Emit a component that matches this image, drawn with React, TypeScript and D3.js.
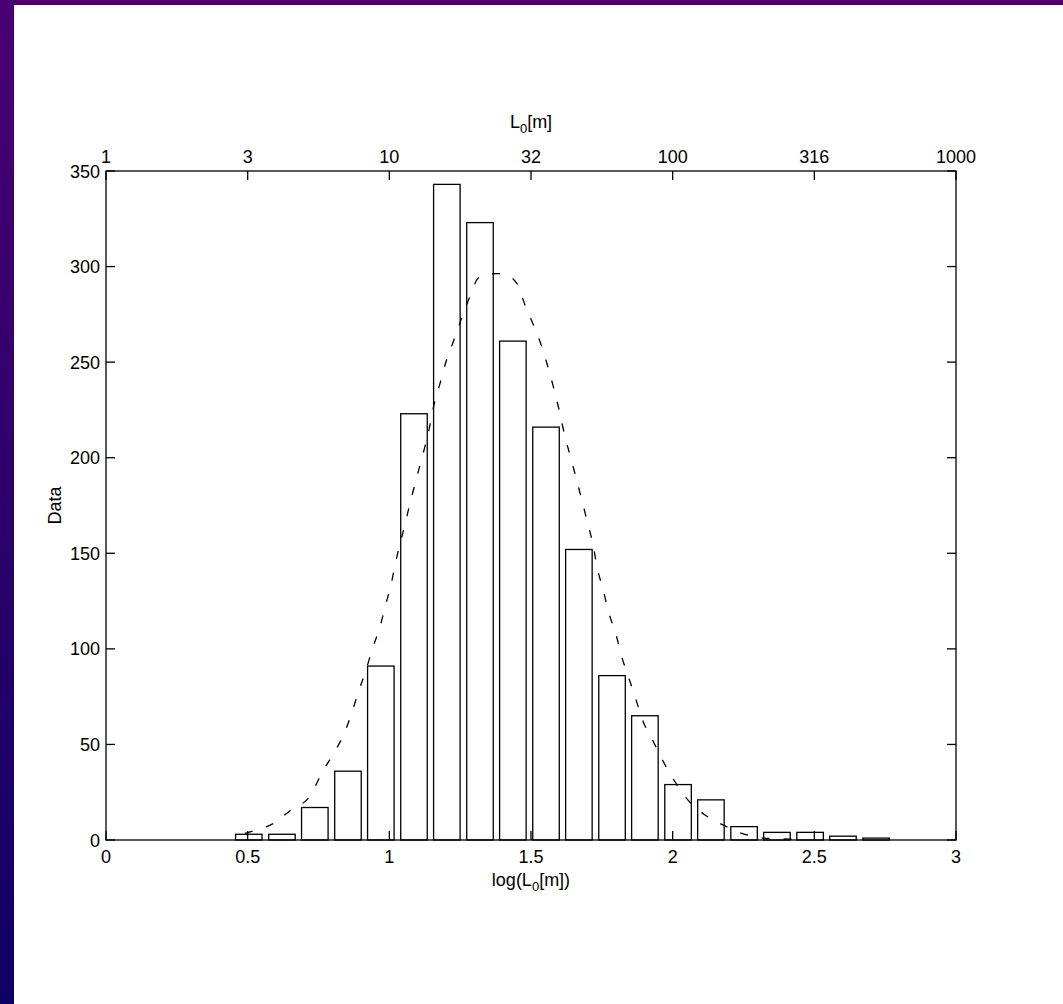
import React from "react";
import * as d3 from "d3";

// ---- data ----
const binCenters = [0.504, 0.621, 0.737, 0.854, 0.970, 1.087, 1.203, 1.320, 1.436, 1.553,
  1.669, 1.786, 1.902, 2.019, 2.135, 2.252, 2.368, 2.485, 2.601, 2.718];
const counts = [3, 3, 17, 36, 91, 223, 343, 323, 261, 216, 152, 86, 65, 29, 21, 7, 4, 4, 2, 1];

const fitX = [0.49, 0.508, 0.591, 0.655, 0.72, 0.761, 0.80, 0.838, 0.867, 0.891, 0.914, 0.941,
  0.967, 0.987, 1.008, 1.024, 1.046, 1.063, 1.082, 1.102, 1.124, 1.141, 1.159, 1.179, 1.2,
  1.228, 1.255, 1.282, 1.314, 1.35, 1.40, 1.45, 1.479, 1.511, 1.538, 1.561, 1.582, 1.602,
  1.62, 1.641, 1.661, 1.681, 1.7, 1.718, 1.734, 1.755, 1.775, 1.799, 1.82, 1.844, 1.869,
  1.896, 1.932, 1.967, 2.008, 2.049, 2.114, 2.179, 2.244, 2.33, 2.42];
const fitY = [3.5, 4.3, 8.7, 16, 23, 34.9, 44.5, 54.9, 66.3, 77.6, 87.2, 100.3,
  111.6, 123, 135, 146.5, 159.6, 170, 181.4, 192.7, 204.9, 215.4, 228.5, 238.9, 250.2,
  261.6, 272.9, 283.4, 294, 296.2, 296.3, 291.2, 279.9, 268.6, 258.1, 246.8, 235.4, 223.2,
  211, 199.7, 188.3, 177, 165.7, 155.2, 142.1, 130.8, 118.6, 108.1, 95.9, 85.4, 74.1,
  61.9, 51.4, 41, 30.5, 21.8, 13.1, 7.8, 3.5, 0.9, 0.5];

const xTicks = [0, 0.5, 1, 1.5, 2, 2.5, 3];
const xTickLabels = ["0", "0.5", "1", "1.5", "2", "2.5", "3"];
const topTickLabels = ["1", "3", "10", "32", "100", "316", "1000"];
const yTicks = [0, 50, 100, 150, 200, 250, 300, 350];

const W = 1063, H = 1004;
const L = 106, R = 956, T = 171, B = 840;
const FONT = "'Liberation Sans', Arial, Helvetica, sans-serif";
const FS = 18;
const TICK = 9;
const SW = 1.3;

export default function App() {
  const x = d3.scaleLinear().domain([0, 3]).range([L, R]);
  const y = d3.scaleLinear().domain([0, 350]).range([B, T]);
  const binW = binCenters[1] - binCenters[0];
  const barW = x(binW * 0.8) - x(0);

  const line = d3.line<number>()
    .x((_, i) => x(fitX[i]))
    .y((d) => y(d))
    .curve(d3.curveMonotoneX);

  return (
    <svg width={W} height={H} style={{ position: "absolute", left: 0, top: 0, display: "block" }}
      fontFamily={FONT}>
      <defs>
        <linearGradient id="side" x1="0" y1="0" x2="0" y2="1">
          <stop offset="0" stopColor="#4a0072" />
          <stop offset="1" stopColor="#0f0064" />
        </linearGradient>
      </defs>
      <rect x={0} y={0} width={W} height={H} fill="#ffffff" />
      <rect x={0} y={0} width={W} height={5} fill="#440068" />
      <rect x={0} y={0} width={14} height={H} fill="url(#side)" />

      {/* bars */}
      {counts.map((c, i) => (
        <rect key={i} x={x(binCenters[i]) - barW / 2} y={y(c)} width={barW} height={y(0) - y(c)}
          fill="none" stroke="#000" strokeWidth={SW} />
      ))}

      {/* fit curve */}
      <path d={line(fitY) || ""} fill="none" stroke="#000" strokeWidth={SW} strokeDasharray="8,14" />

      {/* axes box */}
      <rect x={L} y={T} width={R - L} height={B - T} fill="none" stroke="#000" strokeWidth={SW} />

      {/* y ticks */}
      {yTicks.map((t) => (
        <g key={"y" + t}>
          <line x1={L} x2={L + TICK} y1={y(t)} y2={y(t)} stroke="#000" strokeWidth={SW} />
          <line x1={R} x2={R - TICK} y1={y(t)} y2={y(t)} stroke="#000" strokeWidth={SW} />
          <text x={L - 6} y={y(t) + 6.5} textAnchor="end" fontSize={FS}>{t}</text>
        </g>
      ))}

      {/* x ticks bottom and top */}
      {xTicks.map((t, i) => (
        <g key={"x" + t}>
          <line x1={x(t)} x2={x(t)} y1={B} y2={B - TICK} stroke="#000" strokeWidth={SW} />
          <line x1={x(t)} x2={x(t)} y1={T} y2={T + TICK} stroke="#000" strokeWidth={SW} />
          <text x={x(t)} y={B + 23} textAnchor="middle" fontSize={FS}>{xTickLabels[i]}</text>
          <text x={x(t)} y={T - 8} textAnchor="middle" fontSize={FS}>{topTickLabels[i]}</text>
        </g>
      ))}

      {/* labels */}
      <text x={(L + R) / 2} y={886} textAnchor="middle" fontSize={FS}>
        log(L<tspan fontSize={13} dy={5}>0</tspan><tspan dy={-5}>[m])</tspan>
      </text>
      <text x={(L + R) / 2} y={128} textAnchor="middle" fontSize={FS}>
        L<tspan fontSize={13} dy={5}>0</tspan><tspan dy={-5}>[m]</tspan>
      </text>
      <text transform={`translate(61,${(T + B) / 2}) rotate(-90)`} textAnchor="middle" fontSize={FS}>Data</text>
    </svg>
  );
}
